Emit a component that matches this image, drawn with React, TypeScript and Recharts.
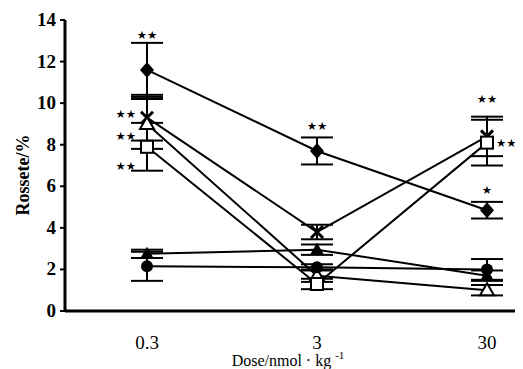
import React from "react";
import { ComposedChart, Line, XAxis, YAxis, ErrorBar, ReferenceDot } from "recharts";

const doses = ["0.3", "3", "30"];
const yTicks = [0, 2, 4, 6, 8, 10, 12, 14];

const diamondVals = [11.6, 7.7, 4.85];
const diamondErr = [1.3, 0.65, 0.4];
const crossVals = [9.3, 3.8, 8.4];
const crossErr = [1.1, 0.35, 0.95];
const openTriVals = [9.0, 1.7, 1.0];
const openTriErr = [1.2, 0.3, 0.25];
const squareVals = [7.9, 1.3, 8.1];
const squareErr = [1.15, 0.25, 1.1];
const circleVals = [2.15, 2.1, 2.0];
const circleErr = [0.7, 0.15, 0.5];
const solidTriVals = [2.75, 2.95, 1.7];
const solidTriErr = [0.2, 0.25, 0.25];

const annotDose = ["0.3", "0.3", "0.3", "0.3", "3", "30", "30", "30"];
const annotY = [13.3, 9.5, 8.4, 7.0, 8.9, 10.2, 8.1, 5.8];
const annotText = ["★★", "★★", "★★", "★★", "★★", "★★", "★★", "★"];
const annotSide = ["top", "left", "left", "left", "top", "top", "right", "top"];

const data = doses.map((d, i) => ({
  dose: d,
  s1: diamondVals[i], e1: diamondErr[i],
  s2: crossVals[i], e2: crossErr[i],
  s3: openTriVals[i], e3: openTriErr[i],
  s4: squareVals[i], e4: squareErr[i],
  s5: circleVals[i], e5: circleErr[i],
  s6: solidTriVals[i], e6: solidTriErr[i],
}));

const FONT = "Liberation Serif";

const makeDot = (kind: string) => (props: any) => {
  const { cx, cy, index } = props;
  if (cx == null || cy == null) return <g key={index} />;
  const k = `${kind}-${index}`;
  switch (kind) {
    case "diamond":
      return <polygon key={k} points={`${cx},${cy - 8} ${cx + 7},${cy} ${cx},${cy + 8} ${cx - 7},${cy}`} fill="#000" />;
    case "cross":
      return (
        <g key={k} stroke="#000" strokeWidth={3}>
          <line x1={cx - 6} y1={cy - 6} x2={cx + 6} y2={cy + 6} />
          <line x1={cx - 6} y1={cy + 6} x2={cx + 6} y2={cy - 6} />
        </g>
      );
    case "openTri":
      return <polygon key={k} points={`${cx},${cy - 7} ${cx + 7},${cy + 5} ${cx - 7},${cy + 5}`} fill="#fff" stroke="#000" strokeWidth={2} />;
    case "square":
      return <rect key={k} x={cx - 6} y={cy - 6} width={12} height={12} fill="#fff" stroke="#000" strokeWidth={2} />;
    case "circle":
      return <circle key={k} cx={cx} cy={cy} r={6} fill="#000" />;
    default:
      return <polygon key={k} points={`${cx},${cy - 7} ${cx + 7},${cy + 5} ${cx - 7},${cy + 5}`} fill="#000" />;
  }
};

const series = [
  { key: "s1", err: "e1", kind: "diamond" },
  { key: "s2", err: "e2", kind: "cross" },
  { key: "s3", err: "e3", kind: "openTri" },
  { key: "s4", err: "e4", kind: "square" },
  { key: "s5", err: "e5", kind: "circle" },
  { key: "s6", err: "e6", kind: "solidTri" },
];

const starShape = (text: string, side: string) => (props: any) => {
  const { cx, cy } = props;
  let x = cx;
  let anchor = "middle";
  if (side === "left") { x = cx - 11; anchor = "end"; }
  if (side === "right") { x = cx + 9; anchor = "start"; }
  return (
    <text x={x} y={cy} dy={4} textAnchor={anchor} fontSize={11.5}
      style={{ fontFamily: "DejaVu Sans" }} fill="#000">{text}</text>
  );
};

const XTick = (props: any) => {
  const { x, y, payload } = props;
  return (
    <text x={x} y={y + 30} textAnchor="middle" fill="#000" style={{ fontFamily: FONT, fontSize: 19 }}>
      {payload.value}
    </text>
  );
};

const YTick = (props: any) => {
  const { x, y, payload } = props;
  return (
    <text x={x - 2} y={y + 6} textAnchor="end" fill="#000" style={{ fontFamily: FONT, fontSize: 19, fontWeight: "bold" }}>
      {payload.value}
    </text>
  );
};

export default function App() {
  return (
    <ComposedChart width={515} height={361} data={data} margin={{ top: 12, right: 1, bottom: 0, left: 0 }}>
      <XAxis
        dataKey="dose"
        type="category"
        padding={{ left: 82, right: 35 }}
        height={58}
        tickLine={false}
        axisLine={{ stroke: "#000", strokeWidth: 3 }}
        tick={<XTick />}
        label={{
          content: () => (
            <text x={280} y={358} textAnchor="middle" fill="#000" style={{ fontFamily: FONT, fontSize: 16 }}>
              Dose/nmol · kg<tspan dx={4} dy={-7} style={{ fontSize: 11 }}>-1</tspan>
            </text>
          ),
        }}
      />
      <YAxis
        domain={[0, 14]}
        ticks={yTicks}
        width={57}
        tickSize={5}
        interval={0}
        axisLine={{ stroke: "#000", strokeWidth: 3 }}
        tickLine={{ stroke: "#000", strokeWidth: 2 }}
        tick={<YTick />}
        label={{
          content: () => (
            <text x={17} y={167} transform="rotate(-90 17 167)" textAnchor="middle" dominantBaseline="middle"
              fill="#000" style={{ fontFamily: FONT, fontSize: 18, fontWeight: "bold" }}>Rossete/%</text>
          ),
        }}
      />
      {series.map((s) => (
        <Line
          key={s.key}
          dataKey={s.key}
          stroke="#000"
          strokeWidth={2}
          isAnimationActive={false}
          dot={makeDot(s.kind)}
          activeDot={false}
        >
          <ErrorBar dataKey={s.err} width={16} stroke="#000" strokeWidth={2} isAnimationActive={false} />
        </Line>
      ))}
      {annotY.map((v, i) => (
        <ReferenceDot key={`a${i}`} x={annotDose[i]} y={v} r={0} shape={starShape(annotText[i], annotSide[i])} />
      ))}
    </ComposedChart>
  );
}
